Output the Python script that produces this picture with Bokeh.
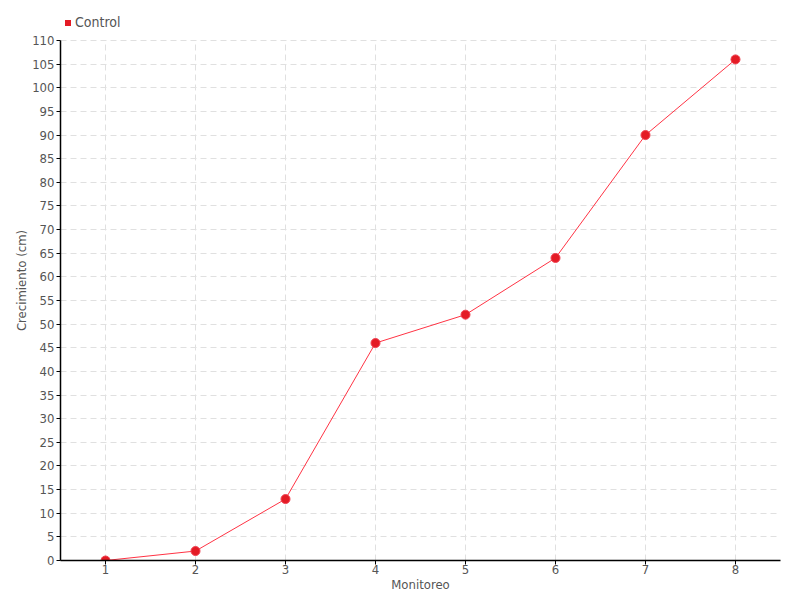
from bokeh.plotting import figure
from bokeh.models import ColumnDataSource, Legend, LegendItem, FixedTicker, Range1d
from bokeh.embed import file_html
from bokeh.resources import INLINE

monitoreo = [1, 2, 3, 4, 5, 6, 7, 8]
control = [0, 2, 13, 46, 52, 64, 90, 106]
y_ticks = list(range(0, 111, 5))

FONT = "'DejaVu Sans Condensed', Roboto"
TXT = "#555555"
GRID = "#e0e0e0"

Y_MAX = 110
# extra headroom above the axis top so the legend can sit inside the frame
Y_TOP = Y_MAX + 40 * Y_MAX / 520.0

p = figure(width=800, height=600, output_backend="svg", toolbar_location=None,
           x_range=Range1d(0.5, 8.5), y_range=Range1d(0, Y_TOP),
           min_border_left=60, min_border_right=20, min_border_top=0, min_border_bottom=40)
p.outline_line_color = None

# vertical grid lines limited to the axis extent
p.xgrid.visible = False
p.segment(x0=monitoreo, y0=[0] * len(monitoreo), x1=monitoreo, y1=[Y_MAX] * len(monitoreo),
          line_color=GRID, line_dash="6 4", line_width=1, level="underlay")

src = ColumnDataSource(dict(x=monitoreo, y=control))
p.line("x", "y", source=src, line_color="#ff3344", line_width=1)
p.scatter("x", "y", source=src, size=9, fill_color="#e41b25", line_color="#f04050", line_width=1)
dummy = p.scatter(x=[float("nan")], y=[float("nan")], marker="square", size=6,
                  fill_color="#e41b25", line_color=None)

p.xaxis.ticker = FixedTicker(ticks=monitoreo)
p.yaxis.ticker = FixedTicker(ticks=y_ticks)
p.yaxis.bounds = (0, Y_MAX)
for ax in (p.xaxis[0], p.yaxis[0]):
    ax.axis_line_color = "black"
    ax.axis_line_width = 1.5
    ax.major_tick_line_color = "black"
    ax.major_tick_out = 4
    ax.major_tick_in = 0
    ax.minor_tick_line_color = None
    ax.major_label_text_font = FONT
    ax.major_label_text_font_size = "13px"
    ax.major_label_text_color = TXT
    ax.axis_label_text_font = FONT
    ax.axis_label_text_font_size = "13px"
    ax.axis_label_text_color = TXT
    ax.axis_label_text_font_style = "normal"
p.xaxis.axis_label = "Monitoreo"
p.yaxis.axis_label = "Crecimiento (cm)"
p.xaxis.axis_label_standoff = 0
p.yaxis.axis_label_standoff = 0
p.yaxis.major_label_standoff = 2
p.xaxis.major_label_standoff = 0

p.ygrid.ticker = FixedTicker(ticks=y_ticks)
p.ygrid.grid_line_color = GRID
p.ygrid.grid_line_dash = "6 4"
p.ygrid.grid_line_width = 1

legend = Legend(items=[LegendItem(label="Control", renderers=[dummy])],
                location=(0, 530), orientation="horizontal",
                label_text_font=FONT, label_text_font_size="14px", label_text_color=TXT,
                glyph_width=15, glyph_height=15, label_standoff=0, padding=0, margin=0,
                label_height=15, background_fill_alpha=0, border_line_color=None)
p.add_layout(legend, "center")

open("out.html", "w").write(file_html(p, INLINE))
